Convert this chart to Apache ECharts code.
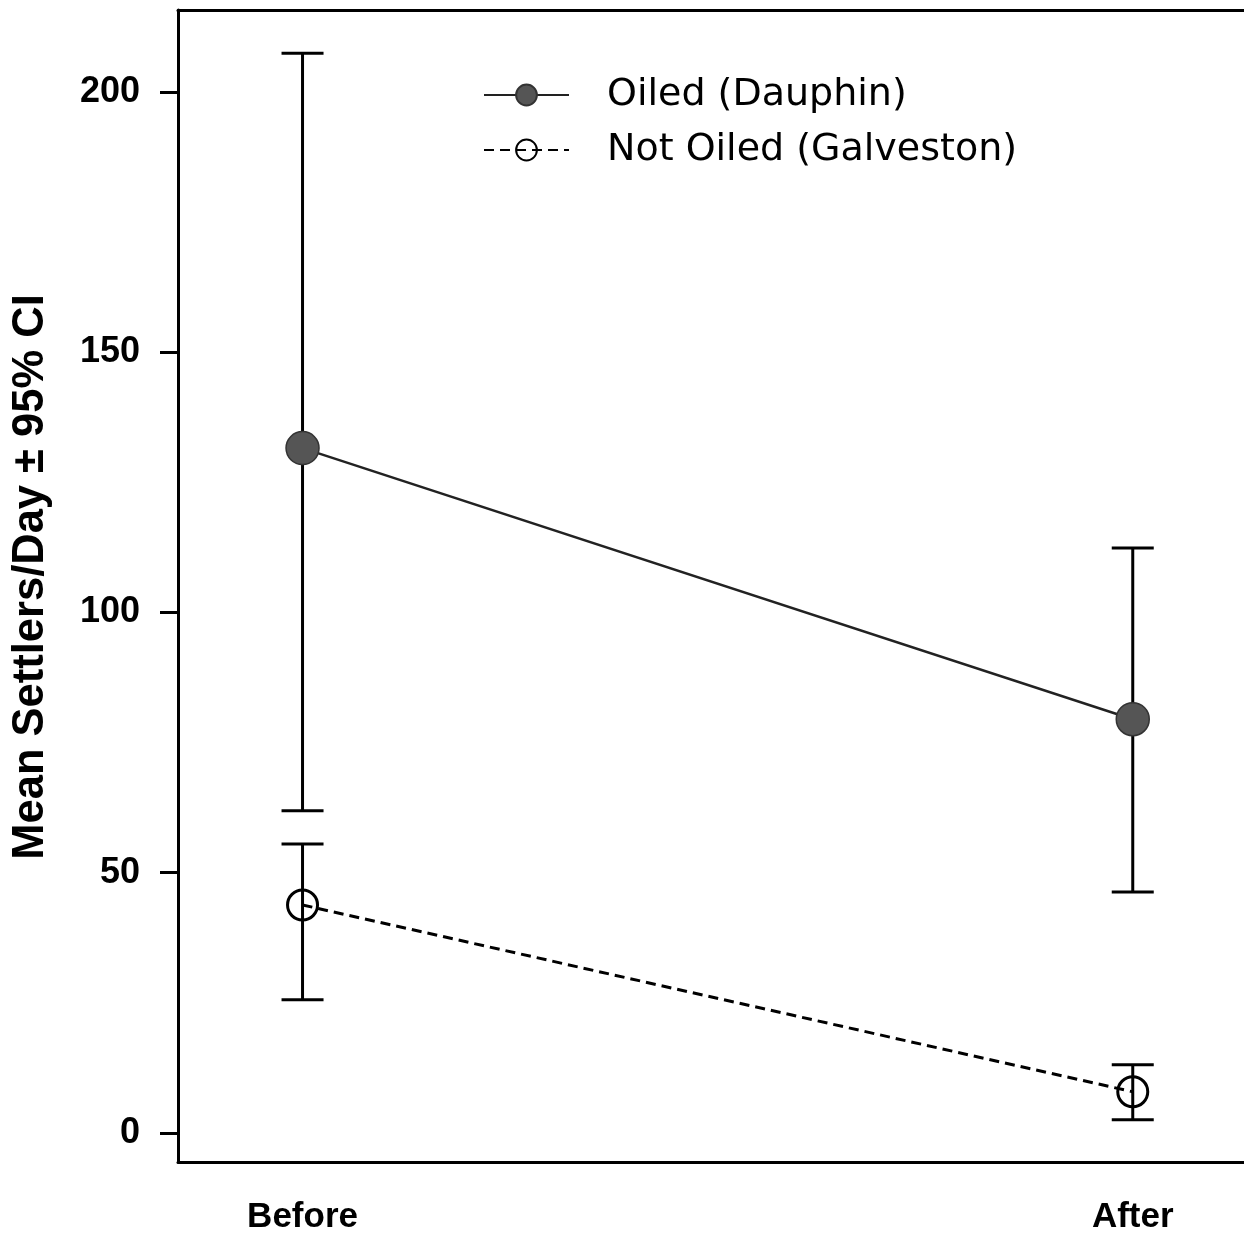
<!DOCTYPE html>
<html>
<head>
<meta charset="utf-8">
<script src="https://cdn.jsdelivr.net/npm/echarts@6/dist/echarts.min.js"></script>
<style>
html,body{margin:0;padding:0;background:#fff;}
#c{width:1244px;height:1239px;}
</style>
</head>
<body>
<div id="c"></div>
<script>
// ---- data ----
const categories = ['Before', 'After'];
const yTicks = [0, 50, 100, 150, 200];
const oiledMean = [131.6, 79.5];
const oiledLow  = [61.9, 46.3];
const oiledHigh = [207.5, 112.4];
const galvMean  = [43.8, 7.9];
const galvLow   = [25.6, 2.5];
const galvHigh  = [55.5, 13.1];
const seriesNames = ['Oiled (Dauphin)', 'Not Oiled (Galveston)'];
const yTitle = 'Mean Settlers/Day \u00B1 95% CI';

const FONT = '"Liberation Sans", Arial, Helvetica, sans-serif';
const X_MIN = 0.85, X_MAX = 2.134;

function pts(arr) { return arr.map((v, i) => [i + 1, v]); }
function ci(lo, hi) { return lo.map((v, i) => [i + 1, v, hi[i]]); }

function errRender(params, api) {
  const x = api.value(0), lo = api.value(1), hi = api.value(2);
  const a = api.coord([x, hi]);
  const b = api.coord([x, lo]);
  const hw = 21;
  const st = { stroke: '#000', lineWidth: 3 };
  return {
    type: 'group',
    children: [
      { type: 'line', shape: { x1: a[0], y1: a[1], x2: b[0], y2: b[1] }, style: st },
      { type: 'line', shape: { x1: a[0] - hw, y1: a[1], x2: a[0] + hw, y2: a[1] }, style: st },
      { type: 'line', shape: { x1: b[0] - hw, y1: b[1], x2: b[0] + hw, y2: b[1] }, style: st }
    ]
  };
}

const chart = echarts.init(document.getElementById('c'), null, { renderer: 'canvas' });
chart.setOption({
  animation: false,
  backgroundColor: '#fff',
  grid: { left: 178, top: 10, right: 0, bottom: 77 },
  legend: {
    orient: 'vertical',
    left: 478, top: 70,
    itemWidth: 85, itemHeight: 26, itemGap: 15,
    textStyle: { fontFamily: '"DejaVu Sans", sans-serif', fontSize: 38, color: '#000', lineHeight: 40, padding: [0, 0, 0, 33] },
    data: seriesNames
  },
  xAxis: [
    {
      type: 'value', min: X_MIN, max: X_MAX, position: 'bottom',
      axisLine: { show: true, onZero: false, lineStyle: { color: '#000', width: 3 } },
      axisTick: { show: false },
      splitLine: { show: false },
      axisLabel: {
        customValues: [1, 2],
        formatter: v => categories[Math.round(v) - 1] || '',
        fontFamily: FONT, fontSize: 35, fontWeight: 'bold', color: '#000', margin: 38
      }
    },
    {
      type: 'value', min: X_MIN, max: X_MAX, position: 'top',
      axisLine: { show: true, onZero: false, lineStyle: { color: '#000', width: 3 } },
      axisTick: { show: false },
      axisLabel: { show: false },
      splitLine: { show: false }
    }
  ],
  yAxis: {
    type: 'value', min: -5.6, max: 215.8,
    name: yTitle, nameLocation: 'middle', nameGap: 125,
    nameTextStyle: { fontFamily: FONT, fontSize: 43.5, fontWeight: 'bold', color: '#000', padding: [0, 0, 0, 18] },
    axisLine: { show: true, onZero: false, lineStyle: { color: '#000', width: 3 } },
    axisTick: { show: true, customValues: yTicks, length: 18, lineStyle: { color: '#000', width: 3 } },
    splitLine: { show: false },
    axisLabel: {
      customValues: yTicks,
      fontFamily: FONT, fontSize: 36, fontWeight: 'bold', color: '#000', margin: 38
    }
  },
  series: [
    {
      type: 'custom', name: 'ci1', renderItem: errRender, z: 1,
      encode: { x: 0, y: [1, 2] }, data: ci(oiledLow, oiledHigh), silent: true
    },
    {
      type: 'custom', name: 'ci2', renderItem: errRender, z: 1,
      encode: { x: 0, y: [1, 2] }, data: ci(galvLow, galvHigh), silent: true
    },
    {
      type: 'line', name: seriesNames[0], z: 3,
      data: pts(oiledMean),
      symbol: 'circle', symbolSize: 33,
      itemStyle: { color: '#555', borderColor: '#333', borderWidth: 1.5 },
      lineStyle: { color: '#222', width: 2.5, type: 'solid' }
    },
    {
      type: 'line', name: seriesNames[1], z: 3,
      data: pts(galvMean),
      symbol: 'circle', symbolSize: 30,
      itemStyle: { color: 'rgba(255,255,255,0)', borderColor: '#000', borderWidth: 3 },
      lineStyle: { color: '#000', width: 3, type: [10, 6] }
    }
  ]
});
</script>
</body>
</html>
